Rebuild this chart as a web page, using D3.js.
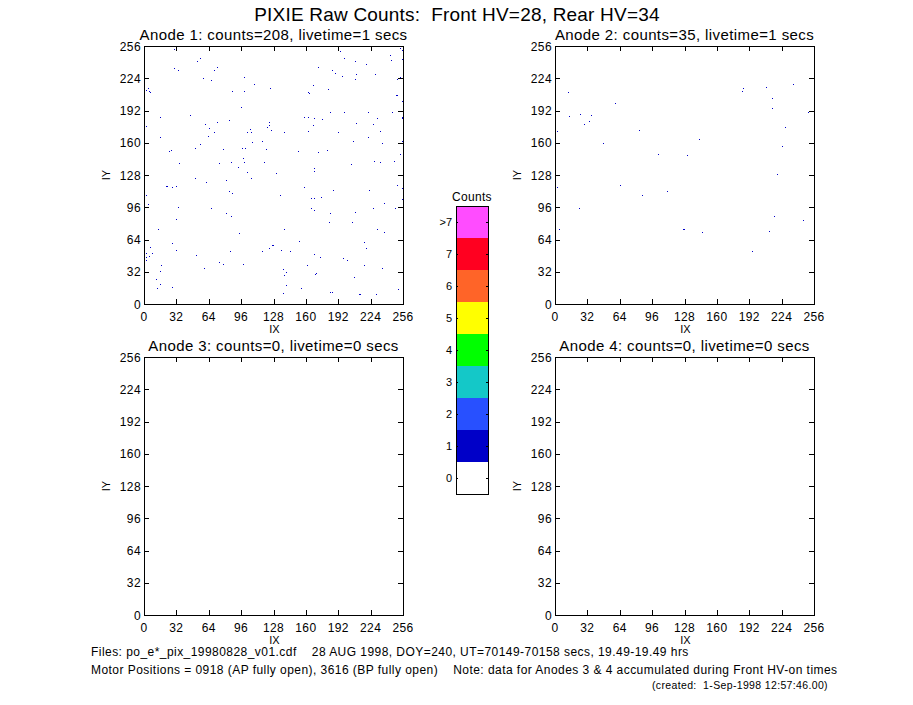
<!DOCTYPE html>
<html>
<head>
<meta charset="utf-8">
<script src="https://cdn.jsdelivr.net/npm/d3@7"></script>
<style>
    body { margin: 0; background: #fff; }
    svg { display: block; font-family: "Liberation Sans", Arial, sans-serif; }
    text { white-space: pre; }
    .frame, .tick, .dot, .cbar rect { shape-rendering: crispEdges; }
</style>
</head>
<body>
<svg id="chart" width="913" height="705"></svg>
<script>
// pixel hits per anode, [IX, IY]
const anode1Counts = [
    [30,252],[55,243],[52,240],[30,233],[34,231],[72,234],[69,231],[2,223],[58,223],[66,221],[99,224],[4,213],[2,211],[5,210],[6,209],[109,217],[125,213],[87,210],[99,210],[96,194],[45,187],[16,185],[72,180],[84,182],[2,176],[60,178],[64,174],[124,180],[124,177],[122,175],[126,172],[105,173],[102,170],[106,170],[69,170],[63,166],[16,165],[107,160],[117,161],[55,158],[50,154],[78,153],[97,154],[100,154],[121,153],[27,152],[25,151],[98,144],[35,139],[74,139],[86,140],[99,140],[119,140],[93,135],[102,130],
    [194,250],[253,253],[255,251],[198,243],[243,246],[244,241],[255,242],[209,240],[219,237],[172,234],[186,231],[189,228],[196,225],[210,227],[209,222],[228,227],[250,222],[253,224],[167,216],[182,212],[162,209],[163,208],[249,206],[250,206],[255,200],[184,190],[198,190],[221,190],[245,190],[255,185],[255,184],[158,185],[162,185],[168,184],[176,183],[230,184],[210,179],[226,178],[167,177],[138,170],[162,171],[192,170],[233,171],[221,165],[207,161],[235,159],[255,161],[152,151],[172,150],[181,152],[253,148],[227,141],[233,140],[247,141],[205,138],[168,134],[168,131],[130,129],
    [50,124],[106,124],[61,120],[81,122],[22,116],[23,116],[28,115],[32,116],[84,111],[87,109],[2,107],[4,98],[34,95],[66,94],[81,89],[86,86],[32,83],[14,73],[94,69],[28,60],[6,56],[32,53],[2,50],[8,50],[5,47],[2,46],[2,43],[51,48],[85,52],[117,52],[124,55],[127,58],[74,41],[78,39],[98,39],[17,38],[59,35],[16,32],[12,24],[16,19],[13,15],[28,16],
    [158,115],[187,112],[222,112],[250,117],[255,114],[134,107],[165,104],[168,104],[175,105],[237,99],[255,103],[165,94],[168,92],[184,89],[209,90],[226,94],[248,94],[183,80],[206,80],[138,73],[230,73],[237,70],[153,62],[217,61],[135,53],[144,52],[219,55],[168,49],[174,46],[197,45],[201,43],[161,38],[217,38],[137,34],[235,35],[140,31],[170,30],[169,29],[138,28],[208,26],[140,18],[155,15],[184,11],[186,11],[137,10],[213,9],[229,9],[251,14]
];
const anode2Counts = [
    [13,209],[2,171],[14,186],[25,188],[36,187],[29,178],[34,181],[47,159],[59,198],[83,172],[102,148],[130,147],[142,163],[2,115],[64,117],[86,107],[111,111],[24,94],[4,73],[127,73],[145,70],[186,213],[185,210],[209,214],[235,217],[214,203],[214,193],[250,190],[227,175],[224,156],[219,128],[216,86],[245,82],[212,71],[195,52]
];
const anode3Counts = [];
const anode4Counts = [];

const panelTitles = [
    "Anode 1: counts=208, livetime=1 secs",
    "Anode 2: counts=35, livetime=1 secs",
    "Anode 3: counts=0, livetime=0 secs",
    "Anode 4: counts=0, livetime=0 secs"
];
const axisTicks = [0, 32, 64, 96, 128, 160, 192, 224, 256];

const colorLevels = ["0", "1", "2", "3", "4", "5", "6", "7", ">7"];
const levelColors = ["#ffffff", "#0000c8", "#2850ff", "#14c8c8", "#00ff00", "#ffff00", "#ff6428", "#ff0020", "#ff4cff"];

const mainTitle = "PIXIE Raw Counts:  Front HV=28, Rear HV=34";
const footerLines = [
    "Files: po_e*_pix_19980828_v01.cdf    28 AUG 1998, DOY=240, UT=70149-70158 secs, 19.49-19.49 hrs",
    "Motor Positions = 0918 (AP fully open), 3616 (BP fully open)    Note: data for Anodes 3 & 4 accumulated during Front HV-on times"
];
const createdNote = "(created:  1-Sep-1998 12:57:46.00)";

const svg = d3.select("#chart");
const panelW = 259, panelH = 258;
const panelPos = [[144, 46], [555, 46], [144, 357], [555, 357]];
const panelData = [anode1Counts, anode2Counts, anode3Counts, anode4Counts];

svg.append("text")
    .attr("x", 457).attr("y", 21)
    .attr("text-anchor", "middle")
    .attr("xml:space", "preserve")
    .style("font-size", "19px")
    .style("letter-spacing", "0.2px")
    .text(mainTitle);

function drawPanel(i){
    let left = panelPos[i][0], top = panelPos[i][1];
    let x = d3.scaleLinear().domain([0, 256]).range([left, left + panelW]);
    let y = d3.scaleLinear().domain([0, 256]).range([top + panelH, top]);
    let g = svg.append("g");

    g.selectAll(".dot")
        .data(panelData[i])
        .enter()
        .append("rect")
        .attr("class", "dot")
        .attr("x", d => x(d[0]))
        .attr("y", d => y(d[1] + 1))
        .attr("width", x(1) - x(0))
        .attr("height", y(0) - y(1))
        .attr("fill", levelColors[1]);

    g.append("rect")
        .attr("class", "frame")
        .attr("x", left + 0.5).attr("y", top + 0.5)
        .attr("width", panelW).attr("height", panelH)
        .attr("fill", "none").attr("stroke", "#000");

    //inward ticks on all four sides
    axisTicks.slice(1, -1).forEach(function(t){
        let tx = Math.round(x(t)) + 0.5, ty = Math.round(y(t)) + 0.5;
        [[tx, top, tx, top + 5], [tx, top + panelH, tx, top + panelH - 5],
         [left, ty, left + 5, ty], [left + panelW, ty, left + panelW - 5, ty]].forEach(function(s){
            g.append("line").attr("class", "tick")
                .attr("x1", s[0]).attr("y1", s[1]).attr("x2", s[2]).attr("y2", s[3])
                .attr("stroke", "#000");
        });
    });

    g.selectAll(".xlab")
        .data(axisTicks).enter()
        .append("text")
        .attr("x", d => x(d)).attr("y", top + panelH + 17)
        .attr("text-anchor", "middle")
        .style("font-size", "12px")
        .style("letter-spacing", "0.4px")
        .text(d => d);

    g.selectAll(".ylab")
        .data(axisTicks).enter()
        .append("text")
        .attr("x", left - 3).attr("y", d => y(d) + 4.5)
        .attr("text-anchor", "end")
        .style("font-size", "12px")
        .style("letter-spacing", "0.4px")
        .text(d => d);

    g.append("text")
        .attr("x", left + panelW / 2 + 1).attr("y", top + panelH + 28.5)
        .attr("text-anchor", "middle")
        .style("font-size", "11px")
        .text("IX");

    g.append("text")
        .attr("transform", "translate(" + (left - 34) + "," + (top + panelH / 2) + ") rotate(-90)")
        .attr("text-anchor", "middle")
        .style("font-size", "11px")
        .text("IY");

    g.append("text")
        .attr("x", left + panelW / 2).attr("y", top - 6)
        .attr("text-anchor", "middle")
        .style("font-size", "15px")
        .style("letter-spacing", "0.4px")
        .text(panelTitles[i]);
}

for (let i = 0; i < 4; i++){
    drawPanel(i);
}

// colour bar
let cbLeft = 456, cbW = 32;
let cb = d3.scaleBand().domain(colorLevels).range([494, 206]);
let cbar = svg.append("g").attr("class", "cbar");

cbar.selectAll("rect.level")
    .data(colorLevels).enter()
    .append("rect")
    .attr("class", "level")
    .attr("x", cbLeft).attr("y", d => cb(d))
    .attr("width", cbW).attr("height", cb.bandwidth())
    .attr("fill", (d, i) => levelColors[i]);

cbar.append("rect")
    .attr("x", cbLeft + 0.5).attr("y", 206.5)
    .attr("width", cbW).attr("height", 288)
    .attr("fill", "none").attr("stroke", "#000");

colorLevels.forEach(function(d){
    let cy = Math.round(cb(d) + cb.bandwidth() / 2) + 0.5;
    cbar.append("line").attr("class", "tick")
        .attr("x1", cbLeft).attr("x2", cbLeft + 2).attr("y1", cy).attr("y2", cy).attr("stroke", "#000");
    cbar.append("line").attr("class", "tick")
        .attr("x1", cbLeft + cbW).attr("x2", cbLeft + cbW - 2).attr("y1", cy).attr("y2", cy).attr("stroke", "#000");
});

cbar.selectAll("text.lab")
    .data(colorLevels).enter()
    .append("text")
    .attr("class", "lab")
    .attr("x", cbLeft - 4).attr("y", d => cb(d) + cb.bandwidth() / 2 + 4)
    .attr("text-anchor", "end")
    .style("font-size", "11px")
    .text(d => d);

svg.append("text")
    .attr("x", cbLeft + cbW / 2).attr("y", 201)
    .attr("text-anchor", "middle")
    .style("font-size", "12px")
    .style("letter-spacing", "0.3px")
    .text("Counts");

// footer
footerLines.forEach(function(line, i){
    svg.append("text")
        .attr("x", 91).attr("y", 656 + i * 18)
        .attr("xml:space", "preserve")
        .style("font-size", "12px")
        .style("letter-spacing", "0.45px")
        .text(line);
});
svg.append("text")
    .attr("x", 652).attr("y", 689)
    .attr("xml:space", "preserve")
    .style("font-size", "10.5px")
    .style("letter-spacing", "0.35px")
    .text(createdNote);
</script>
</body>
</html>
